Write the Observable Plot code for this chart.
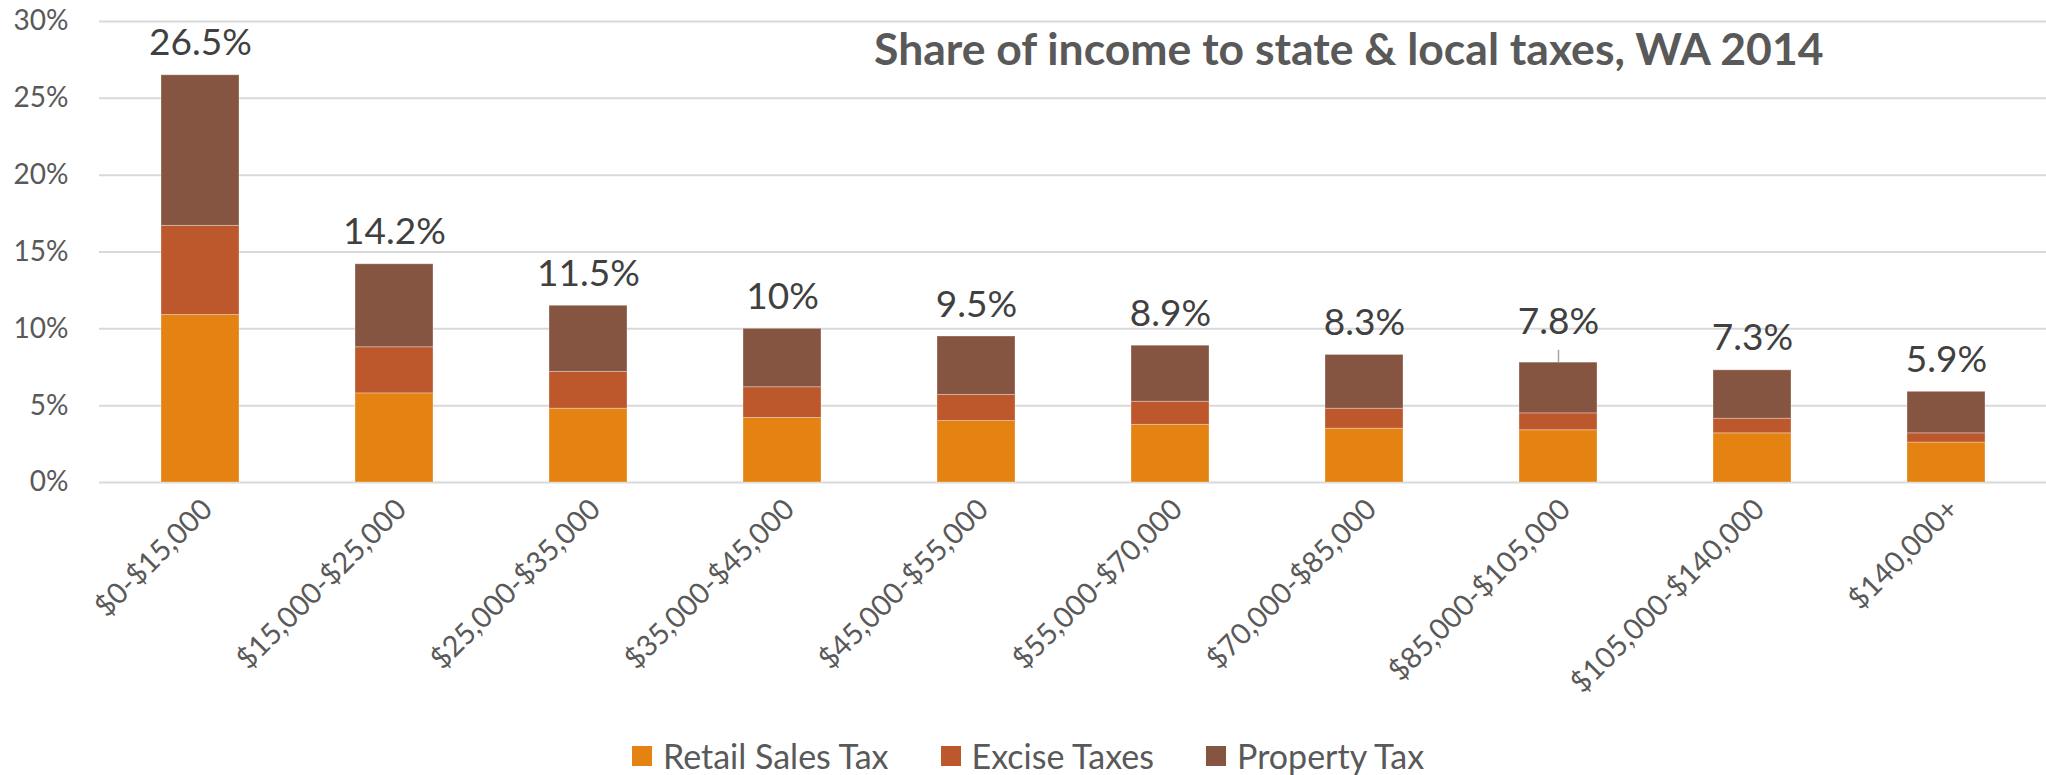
<!DOCTYPE html>
<html>
<head>
<meta charset="utf-8">
<script src="https://cdn.jsdelivr.net/npm/d3@7"></script>
<script src="https://cdn.jsdelivr.net/npm/@observablehq/plot@0.6"></script>
<style>
  html, body { margin: 0; padding: 0; background: #ffffff; }
  body { width: 2046px; height: 775px; overflow: hidden; font-family: Lato, "Open Sans", sans-serif; }
  #legend { position: relative; height: 75px; }
  #legend .items { position: absolute; left: 632px; top: 39px; display: flex; align-items: center; }
  #legend .item { display: flex; align-items: center; margin-right: 52px; font-size: 34px; line-height: 34px; color: #595959; }
  #legend .sw { width: 20px; height: 20px; margin-right: 11px; }
</style>
</head>
<body>
<div id="chart"></div>
<div id="legend"></div>
<script>
// ---- data ----
const categories = ["$0-$15,000", "$15,000-$25,000", "$25,000-$35,000", "$35,000-$45,000", "$45,000-$55,000",
                    "$55,000-$70,000", "$70,000-$85,000", "$85,000-$105,000", "$105,000-$140,000", "$140,000+"];
const retail   = [10.9, 5.8, 4.8, 4.2, 4.0, 3.75, 3.5, 3.4, 3.2, 2.6];
const excise   = [5.8, 3.0, 2.4, 2.0, 1.7, 1.5, 1.3, 1.1, 0.95, 0.6];
const property = [9.8, 5.4, 4.3, 3.8, 3.8, 3.65, 3.5, 3.3, 3.15, 2.7];
const totals   = [26.5, 14.2, 11.5, 10, 9.5, 8.9, 8.3, 7.8, 7.3, 5.9];
const seriesNames = ["Retail Sales Tax", "Excise Taxes", "Property Tax"];
const seriesColors = ["#E48312", "#BD582C", "#865541"];
const yTicks = [0, 5, 10, 15, 20, 25, 30];
const titleText = "Share of income to state & local taxes, WA 2014";
const leaderCategory = "$85,000-$105,000";

// ---- tables ----
const seriesValues = [retail, excise, property];
const rows = [];
categories.forEach((c, i) => {
  seriesNames.forEach((s, j) => rows.push({cat: c, series: s, value: seriesValues[j][i]}));
});
const totalRows = categories.map((c, i) => ({cat: c, total: totals[i], label: `${totals[i]}%`}));

const chart = Plot.plot({
  width: 2046,
  height: 700,
  marginLeft: 99,
  marginRight: 0,
  marginTop: 21,
  marginBottom: 218,
  style: {fontFamily: "Lato, 'Open Sans', sans-serif", background: "#ffffff", overflow: "visible"},
  x: {domain: categories, paddingInner: 0.6, paddingOuter: 0.3, label: null},
  y: {domain: [0, 30], label: null},
  color: {domain: seriesNames, range: seriesColors},
  marks: [
    Plot.gridY(yTicks, {stroke: "#d9d9d9", strokeOpacity: 1, strokeWidth: 2}),
    Plot.axisY(yTicks, {tickSize: 0, tickPadding: 31, tickFormat: d => d + "%", fontSize: 28, fill: "#595959", label: null}),
    Plot.axisX({tickSize: 0, tickRotate: -45, textAnchor: "end", lineAnchor: "middle", tickPadding: 22, dx: 7, fontSize: 29, fill: "#595959", label: null}),
    Plot.barY(rows, {x: "cat", y: "value", fill: "series", stroke: "#ffffff", strokeOpacity: 0.3, strokeWidth: 1}),
    Plot.ruleX(totalRows.filter(d => d.cat === leaderCategory), {x: "cat", y1: "total", y2: d => d.total + 0.8, stroke: "#a6a6a6", strokeWidth: 1.5}),
    Plot.text(totalRows.filter(d => d.cat !== leaderCategory), {x: "cat", y: "total", text: "label", lineAnchor: "bottom", dy: -20, fontSize: 37, fill: "#404040"}),
    Plot.text(totalRows.filter(d => d.cat === leaderCategory), {x: "cat", y: "total", text: "label", lineAnchor: "bottom", dy: -29, fontSize: 37, fill: "#404040"}),
    Plot.text([titleText], {frameAnchor: "top-right", dx: -223, dy: 29, text: d => d, textAnchor: "end", lineAnchor: "middle", fontSize: 44.5, fontWeight: "bold", fill: "#595959"})
  ]
});
document.getElementById("chart").appendChild(chart);

// ---- legend ----
const legend = document.getElementById("legend");
const items = document.createElement("div");
items.className = "items";
seriesNames.forEach((s, j) => {
  const it = document.createElement("div");
  it.className = "item";
  const sw = document.createElement("span");
  sw.className = "sw";
  sw.style.background = seriesColors[j];
  const tx = document.createElement("span");
  tx.textContent = s;
  it.appendChild(sw);
  it.appendChild(tx);
  items.appendChild(it);
});
legend.appendChild(items);
</script>
</body>
</html>
